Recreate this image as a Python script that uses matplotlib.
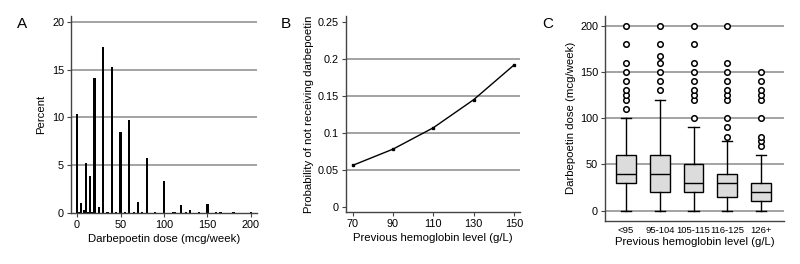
import matplotlib
matplotlib.use("Agg")
import matplotlib.pyplot as plt

plt.rcParams['font.family'] = ['Liberation Sans', 'DejaVu Sans']

# Panel A: dose histogram
dose = [0, 2.5, 5, 7.5, 10, 12.5, 15, 17.5, 20, 25, 30, 35, 40, 45, 50, 55, 60, 65, 70, 75, 80,
        90, 100, 110, 112.5, 120, 125, 130, 140, 150, 160, 165, 180, 200]
percent = [10.3, 0.15, 1.0, 0.3, 5.2, 0.15, 3.9, 0.15, 14.1, 0.6, 17.4, 0.1, 15.3, 0.1, 8.5, 0.1, 9.7, 0.15, 1.1, 0.1, 5.8,
           0.1, 3.3, 0.15, 0.15, 0.8, 0.15, 0.3, 0.1, 0.9, 0.15, 0.15, 0.1, 0.1]

# Panel B: probability curve
hb = [70, 90, 110, 130, 150]
prob = [0.056, 0.078, 0.107, 0.145, 0.192]

# Panel C: boxplots
groups = ['<95', '95-104', '105-115', '116-125', '126+']
whislo = [0, 0, 0, 0, 0]
q1 = [30, 20, 20, 15, 10]
med = [40, 40, 30, 30, 20]
q3 = [60, 60, 50, 40, 30]
whishi = [100, 120, 90, 75, 60]
outliers = [
    [110, 120, 125, 130, 140, 150, 160, 180, 200],
    [130, 140, 150, 160, 167, 180, 200],
    [100, 120, 125, 130, 140, 150, 160, 180, 200],
    [80, 90, 100, 120, 125, 130, 140, 150, 160, 200],
    [70, 75, 80, 100, 120, 125, 130, 140, 150],
]

W, H = 800, 264
fig = plt.figure(figsize=(8, 2.64), dpi=100)

def ax_at(l, t, r, b):
    return fig.add_axes([l / W, 1 - b / H, (r - l) / W, (b - t) / H])

grid_c = '#8a8a8a'
spine_c = '#444444'
tfs = 7.8
lfs = 8.2

def style(ax):
    for s in ['top', 'right']:
        ax.spines[s].set_visible(False)
    for s in ['left', 'bottom']:
        ax.spines[s].set_color(spine_c)
        ax.spines[s].set_linewidth(1.0)
    ax.tick_params(direction='out', length=3, width=0.8, color=spine_c, labelsize=tfs, pad=2)
    ax.set_axisbelow(True)

# A
axA = ax_at(71, 16, 257, 213)
style(axA)
axA.bar(dose, percent, width=2.4, color='black', linewidth=0)
axA.set_xlim(-7, 207)
axA.set_ylim(0, 20.6)
axA.set_yticks([0, 5, 10, 15, 20])
axA.set_xticks([0, 50, 100, 150, 200])
for v in [5, 10, 15, 20]:
    axA.axhline(v, color=grid_c, lw=1.1, zorder=0)
axA.set_xlabel('Darbepoetin dose (mcg/week)', fontsize=lfs, labelpad=3)
axA.set_ylabel('Percent', fontsize=lfs, labelpad=4)
fig.text(22 / W, 1 - 24 / H, 'A', fontsize=11, ha='center', va='center')

# B
axB = ax_at(346, 16, 520, 212)
style(axB)
axB.plot(hb, prob, color='black', lw=1.0, marker='s', markersize=1.6)
axB.set_xlim(66.7, 153)
axB.set_ylim(-0.0072, 0.2585)
axB.set_yticks([0, 0.05, 0.1, 0.15, 0.2, 0.25])
axB.set_yticklabels(['0', '0.05', '0.1', '0.15', '0.2', '0.25'])
axB.set_xticks([70, 90, 110, 130, 150])
for v in [0.05, 0.1, 0.15, 0.2]:
    axB.axhline(v, color=grid_c, lw=1.1, zorder=0)
axB.set_xlabel('Previous hemoglobin level (g/L)', fontsize=lfs, labelpad=3)
axB.set_ylabel('Probability of not receiving darbepoetin', fontsize=lfs, labelpad=3)
fig.text(286 / W, 1 - 24 / H, 'B', fontsize=11, ha='center', va='center')

# C
axC = ax_at(605, 16, 784, 220.7)
style(axC)
stats = []
for i, g in enumerate(groups):
    stats.append(dict(label=g, whislo=whislo[i], q1=q1[i], med=med[i], q3=q3[i],
                      whishi=whishi[i], fliers=outliers[i]))
axC.bxp(stats, positions=[1, 2, 3, 4, 5], widths=0.58, patch_artist=True,
        boxprops=dict(facecolor='#dcdcdc', edgecolor='black', linewidth=1.0),
        medianprops=dict(color='black', linewidth=1.0),
        whiskerprops=dict(color='black', linewidth=1.0),
        capprops=dict(color='black', linewidth=1.0),
        capwidths=0.3,
        flierprops=dict(marker='o', markersize=4, markerfacecolor='white',
                        markeredgecolor='black', markeredgewidth=1.1))
axC.set_xlim(0.378, 5.68)
axC.set_ylim(-10.8, 210.5)
axC.set_yticks([0, 50, 100, 150, 200])
for v in [0, 50, 100, 150, 200]:
    axC.axhline(v, color=grid_c, lw=1.1, zorder=0)
axC.tick_params(axis='x', length=0, labelsize=6.8, pad=4)
axC.set_xlabel('Previous hemoglobin level (g/L)', fontsize=lfs, labelpad=1)
axC.set_ylabel('Darbepoetin dose (mcg/week)', fontsize=lfs, labelpad=3)
fig.text(548 / W, 1 - 24 / H, 'C', fontsize=11, ha='center', va='center')

fig.savefig('out.png', dpi=100)
